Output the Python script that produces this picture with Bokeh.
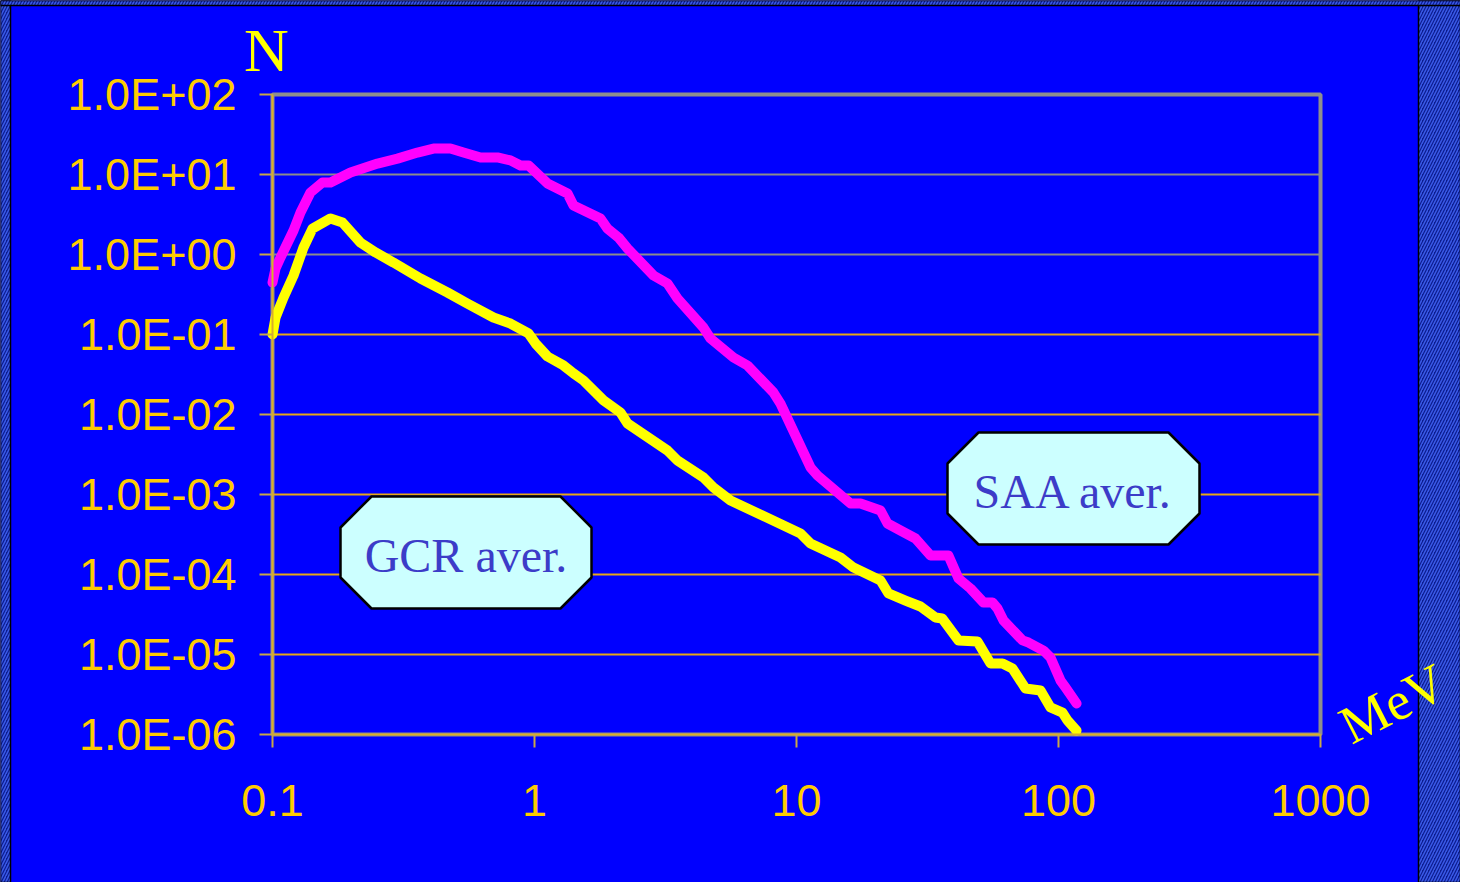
from bokeh.plotting import figure
from bokeh.models import Range1d, FixedTicker, Label, BoxAnnotation
from bokeh.core.properties import value
from bokeh.embed import file_html
from bokeh.resources import INLINE
import math

# ---------------- data ----------------
x_ticks = [0.1, 1, 10, 100, 1000]
x_tick_labels = ["0.1", "1", "10", "100", "1000"]
y_ticks = [1e-6, 1e-5, 1e-4, 1e-3, 1e-2, 1e-1, 1, 10, 100]
y_tick_labels = ["1.0E-06", "1.0E-05", "1.0E-04", "1.0E-03", "1.0E-02",
                 "1.0E-01", "1.0E+00", "1.0E+01", "1.0E+02"]

saa_energy = [0.1, 0.1027, 0.1073, 0.1203, 0.1279, 0.1396, 0.1551, 0.1665, 0.1985,
              0.2517, 0.3000, 0.3576, 0.4116, 0.4778, 0.5358, 0.6222, 0.7288, 0.8096,
              0.8843, 0.9487, 1.121, 1.337, 1.409, 1.786, 1.899, 2.093, 2.265, 2.846,
              3.218, 3.514, 4.416, 4.696, 5.747, 6.501, 8.170, 8.687, 11.31, 12.03,
              16.08, 17.55, 20.93, 22.25, 24.94, 28.46, 32.47, 38.0, 41.53, 46.14,
              51.72, 55.99, 58.51, 61.68, 72.90, 76.83, 87.66, 93.2, 101.8, 106.3, 117.2]
saa_n = [0.447, 0.668, 0.917, 1.995, 3.35, 5.96, 7.94, 7.94, 10.6,
         13.7, 15.8, 18.8, 21.1, 21.1, 18.8, 16.3, 16.3, 15.0,
         12.96, 12.96, 7.72, 5.79, 4.10, 2.82, 2.11, 1.63, 1.19, 0.546,
         0.434, 0.282, 0.122, 0.0891, 0.0516, 0.0410, 0.0188, 0.0137, 0.00218, 0.00173,
         0.000772, 0.000772, 0.000631, 0.000434, 0.000355, 0.000282, 0.000173, 0.000173,
         8.91e-5, 6.68e-5, 4.47e-5, 4.47e-5, 3.76e-5, 2.66e-5, 1.50e-5, 1.41e-5,
         1.12e-5, 9.17e-6, 4.73e-6, 3.87e-6, 2.44e-6]

gcr_energy = [0.1, 0.1027, 0.1102, 0.1203, 0.1313, 0.1421, 0.1665, 0.1850, 0.2167,
              0.2473, 0.2896, 0.3672, 0.4655, 0.5549, 0.6972, 0.8096, 0.9487, 1.009,
              1.121, 1.290, 1.409, 1.538, 1.834, 2.129, 2.265, 3.218, 3.514, 4.416,
              4.822, 5.599, 10.36, 11.31, 14.72, 16.51, 20.93, 22.44, 26.06, 29.74,
              33.93, 36.0, 41.53, 49.08, 55.03, 61.13, 66.74, 74.82, 85.39, 93.2,
              103.6, 108.2, 117.2]
gcr_n = [0.1, 0.163, 0.290, 0.546, 1.223, 2.11, 2.82, 2.51, 1.41,
         1.06, 0.794, 0.501, 0.335, 0.244, 0.163, 0.137, 0.103, 0.0772,
         0.0531, 0.0410, 0.0326, 0.0266, 0.0150, 0.0106, 0.00772, 0.00355, 0.00266, 0.00163,
         0.00122, 0.000841, 0.000326, 0.000244, 0.000163, 0.000122, 8.41e-5, 5.79e-5, 4.73e-5, 3.98e-5,
         2.90e-5, 2.82e-5, 1.50e-5, 1.45e-5, 7.72e-6, 7.72e-6, 6.68e-6, 3.76e-6, 3.55e-6, 2.18e-6,
         1.88e-6, 1.50e-6, 1.12e-6]

series_labels = ["GCR aver.", "SAA aver."]
y_title = "N"
x_title = "MeV"

# ---------------- layout helpers (canvas pixel -> data) ----------------
FRAME_L, FRAME_T = 272, 94
DEC_X, DEC_Y = 262.0, 80.0
W, H = 1460, 882
BASE_SHIFT = 0.36  # empirical correction of the text baseline (fraction of font size)


def px2x(px):
    return 10 ** (-1 + (px - FRAME_L) / DEC_X)


def py2y(py):
    return 10 ** (2 - (py - FRAME_T) / DEC_Y)


def add_label(p, text, bx, by, fs, color, font, align="left", angle_deg=0.0):
    a = math.radians(angle_deg)
    p.add_layout(Label(x=px2x(bx), y=py2y(by - BASE_SHIFT * fs), text=text, text_align=align,
                       text_baseline="alphabetic", text_font=font,
                       text_font_size=f"{fs}px", text_color=color, angle=a))


xmin, xmax = x_ticks[0], x_ticks[-1]
ymin, ymax = y_ticks[0], y_ticks[-1]

p = figure(width=W, height=H, x_axis_type="log", y_axis_type="log",
           x_range=Range1d(px2x(0), px2x(W)), y_range=Range1d(py2y(H), py2y(0)),
           output_backend="svg", toolbar_location=None,
           min_border_left=0, min_border_right=0, min_border_top=0, min_border_bottom=0)

blue = "#0000FF"
p.background_fill_color = blue
p.border_fill_color = blue
p.outline_line_color = None
p.xgrid.visible = False
p.ygrid.visible = False

# hatched surround
hatch = dict(fill_color="#0C1C90", fill_alpha=1, hatch_pattern="/", hatch_color="#3A5AE8",
             hatch_scale=6, hatch_weight=1.5, line_color="black", line_alpha=1, line_width=1.5,
             level="underlay")
p.add_layout(BoxAnnotation(left=px2x(1418), **hatch))
p.add_layout(BoxAnnotation(right=px2x(10), **hatch))
p.add_layout(BoxAnnotation(bottom=py2y(5), **hatch))

# grid lines (inside plot area only)
grid_vals = y_ticks[1:-1]
grid_cols = ["#8C8C8C" if v >= 1 else "#E6A817" for v in grid_vals]
p.segment(x0=[xmin] * len(grid_vals), x1=[xmax] * len(grid_vals), y0=grid_vals, y1=grid_vals,
          line_color=grid_cols, line_width=1.8)

# plot-area border
p.add_layout(BoxAnnotation(left=xmin, right=xmax, bottom=ymin, top=ymax, fill_color=None,
                           line_color="#8E8E8E", line_alpha=1, line_width=4, level="underlay"))

for ax, ticks, labels in ((p.xaxis[0], x_ticks, x_tick_labels), (p.yaxis[0], y_ticks, y_tick_labels)):
    ax.ticker = FixedTicker(ticks=ticks, minor_ticks=[])
    ax.major_label_overrides = dict(zip(ticks, labels))
    ax.axis_line_color = "#D9AE2A"
    ax.axis_line_width = 2
    ax.major_tick_line_color = "#C8A848"
    ax.major_tick_line_width = 2
    ax.major_tick_out = 13
    ax.major_tick_in = 0
    ax.minor_tick_line_color = None
    ax.major_label_text_font = "Liberation Sans"
    ax.major_label_text_font_size = "45px"
    ax.major_label_text_color = "#FFCC00"
p.xaxis[0].fixed_location = ymin
p.xaxis[0].bounds = (xmin, xmax)
p.yaxis[0].fixed_location = xmin
p.yaxis[0].bounds = (ymin, ymax)
p.yaxis[0].major_label_standoff = 23
p.xaxis[0].major_label_standoff = 37

p.line(saa_energy, saa_n, line_color="#FF00FF", line_width=10, line_cap="round", line_join="round")
p.line(gcr_energy, gcr_n, line_color="#FFFF00", line_width=10, line_cap="round", line_join="round")


def octagon(L, T, R, B, c):
    pts = [(L + c, T), (R - c, T), (R, T + c), (R, B - c), (R - c, B), (L + c, B), (L, B - c), (L, T + c)]
    return [px2x(a) for a, b in pts], [py2y(b) for a, b in pts]


box_geom = [(340, 496, 591, 608), (947, 432, 1199, 544)]
text_pos = [(465.5, 572), (1073, 508)]
for (L, T, R, B), (tx, ty), lab in zip(box_geom, text_pos, series_labels):
    xs, ys = octagon(L, T, R, B, 31)
    p.patch(xs, ys, fill_color="#CCFFFF", line_color="black", line_width=2.5)
    add_label(p, lab, tx, ty, 48, "#3C3CC8", "Liberation Serif", align="center")

add_label(p, y_title, 266, 72, 62, "#FFFF00", "Liberation Serif", align="center")
add_label(p, x_title, 1343, 748, 54, "#FFFF00", "Liberation Serif", align="left", angle_deg=27)

open("out.html", "w").write(file_html(p, INLINE))
